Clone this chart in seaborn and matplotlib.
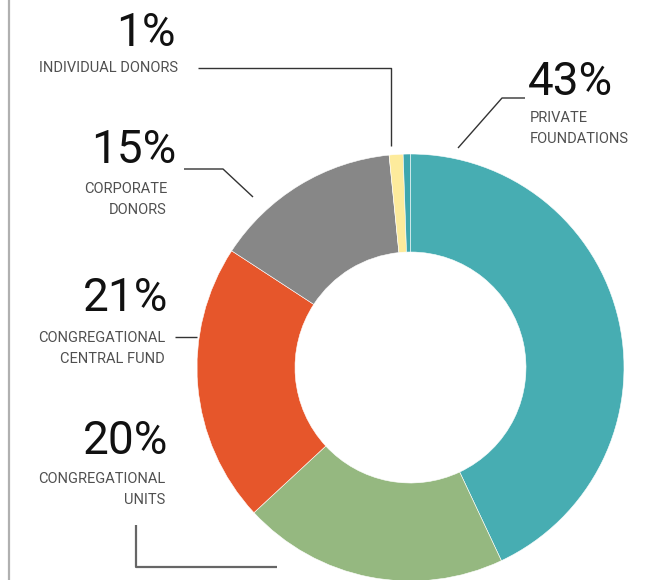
import matplotlib
matplotlib.use("Agg")
import matplotlib.pyplot as plt
import seaborn as sns

# ── data ──────────────────────────────────────────────────────────────────────
categories = ["Private Foundations", "Congregational Units", "Congregational Central Fund",
              "Corporate Donors", "Individual Donors", "Other"]
shares     = [43.0, 20.1, 21.1, 14.2, 1.05, 0.55]
colors     = ["#47adb2", "#95b880", "#e6562b", "#878787", "#fdeb9c", "#3ea7ae"]
pct_labels = ["43%", "20%", "21%", "15%", "1%"]
sub_labels = ["PRIVATE\nFOUNDATIONS", "CONGREGATIONAL\nUNITS", "CONGREGATIONAL\nCENTRAL FUND",
              "CORPORATE\nDONORS", "INDIVIDUAL DONORS"]

W, H = 668, 580
sns.set_theme(style="white")
font = ["Roboto", "DejaVu Sans"]

fig = plt.figure(figsize=(W / 100, H / 100), dpi=100)
ax = fig.add_axes([0, 0, 1, 1])


def Y(y):  # image y (from top) -> axes y
    return H - y


# ── donut ─────────────────────────────────────────────────────────────────────
ax.pie(shares, colors=colors, startangle=90, counterclock=False,
       center=(410.5, Y(367.5)), radius=213.5, frame=True,
       wedgeprops=dict(width=98, edgecolor="white", linewidth=0.4))
ax.set_xlim(0, W)
ax.set_ylim(0, H)
ax.set_aspect("equal")
ax.axis("off")

# left border rule
ax.plot([8.5, 8.5], [0, H], color="#b0b0b0", lw=1.6)

# ── labels ────────────────────────────────────────────────────────────────────
line_kw = dict(color="#333333", lw=1.0, solid_capstyle="butt")
big_kw = dict(fontsize=33, color="#111111", family=font, va="center")
sub_kw = dict(fontsize=10.5, color="#505050", family=font,
              va="top", linespacing=1.6)

# private foundations (right side)
ax.text(528, Y(82), pct_labels[0], ha="left", **big_kw)
ax.text(530, Y(111), sub_labels[0], ha="left", **sub_kw)
ax.plot([525, 502, 458], [Y(98), Y(98), Y(148)], **line_kw)

# individual donors
ax.text(176, Y(33), pct_labels[4], ha="right", **big_kw)
ax.text(178, Y(61), sub_labels[4], ha="right", **sub_kw)
ax.plot([198, 391, 391], [Y(68), Y(68), Y(146)], **line_kw)

# corporate donors
ax.text(176, Y(150), pct_labels[3], ha="right", **big_kw)
ax.text(167, Y(182), sub_labels[3], ha="right", multialignment="right", **sub_kw)
ax.plot([184, 223, 253], [Y(169), Y(169), Y(197)], **line_kw)

# congregational central fund
ax.text(168, Y(298), pct_labels[2], ha="right", **big_kw)
ax.text(165, Y(331), sub_labels[2], ha="right", multialignment="right", **sub_kw)
ax.plot([175, 197], [Y(337), Y(337)], **line_kw)

# congregational units
ax.text(168, Y(441), pct_labels[1], ha="right", **big_kw)
ax.text(165, Y(472), sub_labels[1], ha="right", multialignment="right", **sub_kw)
ax.plot([136, 136, 277], [Y(525), Y(567), Y(567)], color="#666666", lw=1.6,
        solid_capstyle="butt")

fig.savefig("out.png", dpi=100, facecolor="white")
